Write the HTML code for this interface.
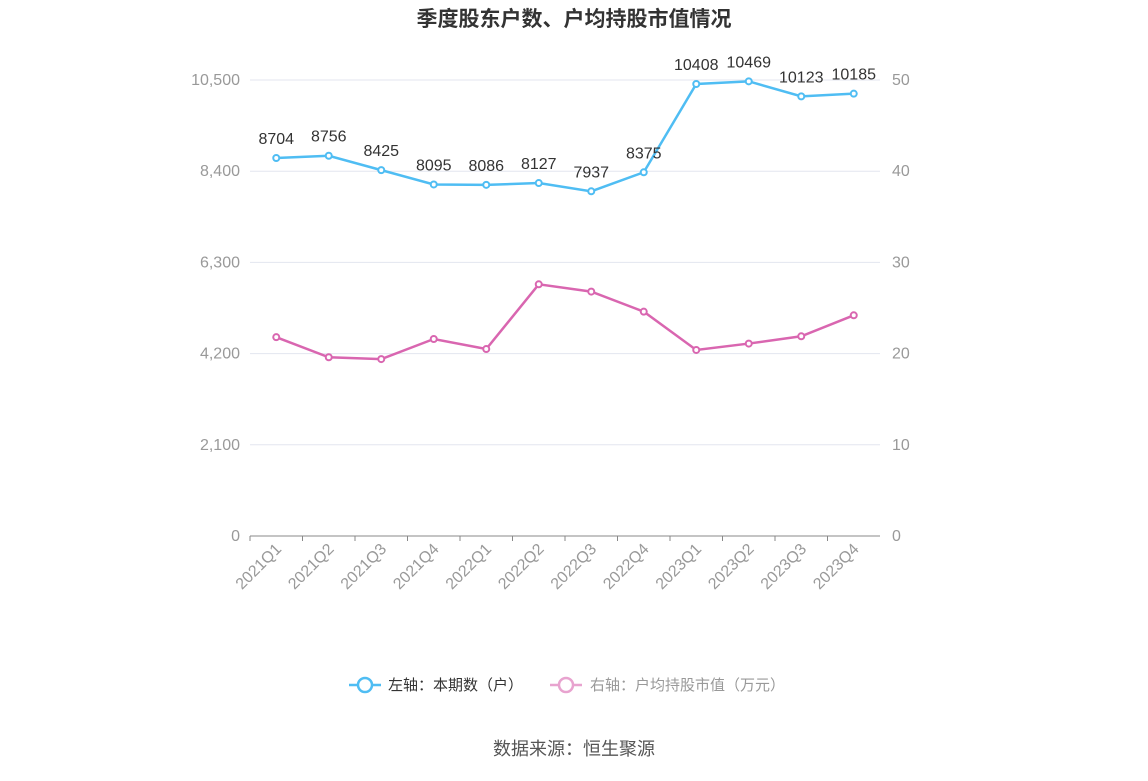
<!DOCTYPE html>
<html><head><meta charset="utf-8"><style>
body{margin:0;background:#fff;width:1148px;height:776px;overflow:hidden;font-family:"Liberation Sans","Noto Sans CJK SC",sans-serif}
</style></head><body>
<svg id="c" width="1148" height="776" style="font-family:'Liberation Sans','Noto Sans CJK SC',sans-serif">
<text x="574" y="26" text-anchor="middle" font-size="21" font-weight="bold" fill="#333">季度股东户数、户均持股市值情况</text>
<g id="grid"></g><g id="axes"></g><g id="series"></g>
<g>
<g><line x1="349" y1="685" x2="381" y2="685" stroke="#4fbdf3" stroke-width="2.5"/><circle cx="365" cy="685" r="7" fill="#fff" stroke="#4fbdf3" stroke-width="2.5"/><text x="388" y="690" font-size="15" fill="#333">左轴：本期数（户）</text></g>
<g><line x1="550" y1="685" x2="582" y2="685" stroke="#e8a3cf" stroke-width="2.5"/><circle cx="566" cy="685" r="7" fill="#fff" stroke="#e8a3cf" stroke-width="2.5"/><text x="590" y="690" font-size="15" fill="#999">右轴：户均持股市值（万元）</text></g>
</g>
<text x="574" y="755" text-anchor="middle" font-size="18" fill="#555">数据来源：恒生聚源</text>
</svg>
<script>
const categories=["2021Q1","2021Q2","2021Q3","2021Q4","2022Q1","2022Q2","2022Q3","2022Q4","2023Q1","2023Q2","2023Q3","2023Q4"];
const holders=[8704,8756,8425,8095,8086,8127,7937,8375,10408,10469,10123,10185];
const avgValue=[21.8,19.6,19.4,21.6,20.5,27.6,26.8,24.6,20.4,21.1,21.9,24.2];
const leftTicks=[0,2100,4200,6300,8400,10500];
const rightTicks=[0,10,20,30,40,50];
const NS="http://www.w3.org/2000/svg";
const L=250,R=880,T=80,B=536;
const xs=i=>L+(R-L)/categories.length*(i+0.5);
const yl=v=>B-v/10500*(B-T);
const yr=v=>B-v/50*(B-T);
function mk(tag,attrs,parent,txt){const e=document.createElementNS(NS,tag);for(const k in attrs)e.setAttribute(k,attrs[k]);if(txt!==undefined)e.textContent=txt;document.getElementById(parent).appendChild(e);return e;}
leftTicks.forEach((t,i)=>{
 const g=mk('line',{x1:L,x2:R,y1:yl(t),y2:yl(t),stroke:i==0?'#888':'#e3e6ef','stroke-width':1},'grid');
 
 
 const a=mk('text',{x:240,y:yl(t)+5,'text-anchor':'end','font-size':16,fill:'#999'},'axes',t.toLocaleString('en-US'));
 
 
});
rightTicks.forEach(t=>{
 const a=mk('text',{x:892,y:yr(t)+5,'font-size':16,fill:'#999'},'axes',String(t));
 
 
});
categories.forEach((c,i)=>{
 const x=xs(i);
 const tk=mk('line',{x1:x-26.25,x2:x-26.25,y1:B,y2:B+5,stroke:'#888'},'axes');
 
 
 const t=mk('text',{x:x+6,y:B+14,'text-anchor':'end','font-size':16,fill:'#999',transform:`rotate(-45 ${x+6} ${B+14})`},'axes',c);
 
 
});
function series(vals,yf,color,name,labels){
 const p=mk('polyline',{points:vals.map((v,i)=>xs(i)+','+yf(v)).join(' '),fill:'none',stroke:color,'stroke-width':2.5},'series');
 
 
 vals.forEach((v,i)=>{
  const c=mk('circle',{cx:xs(i),cy:yf(v),r:3,fill:'#fff',stroke:color,'stroke-width':2},'series');
  
  
  if(labels){const t=mk('text',{x:xs(i),y:yf(v)-14,'text-anchor':'middle','font-size':16,fill:'#333'},'series',String(v));
  
  }
 });
}
series(holders,yl,'#4fbdf3','holders',true);
series(avgValue,yr,'#d966b0','avg-value',false);
</script>
</body></html>
